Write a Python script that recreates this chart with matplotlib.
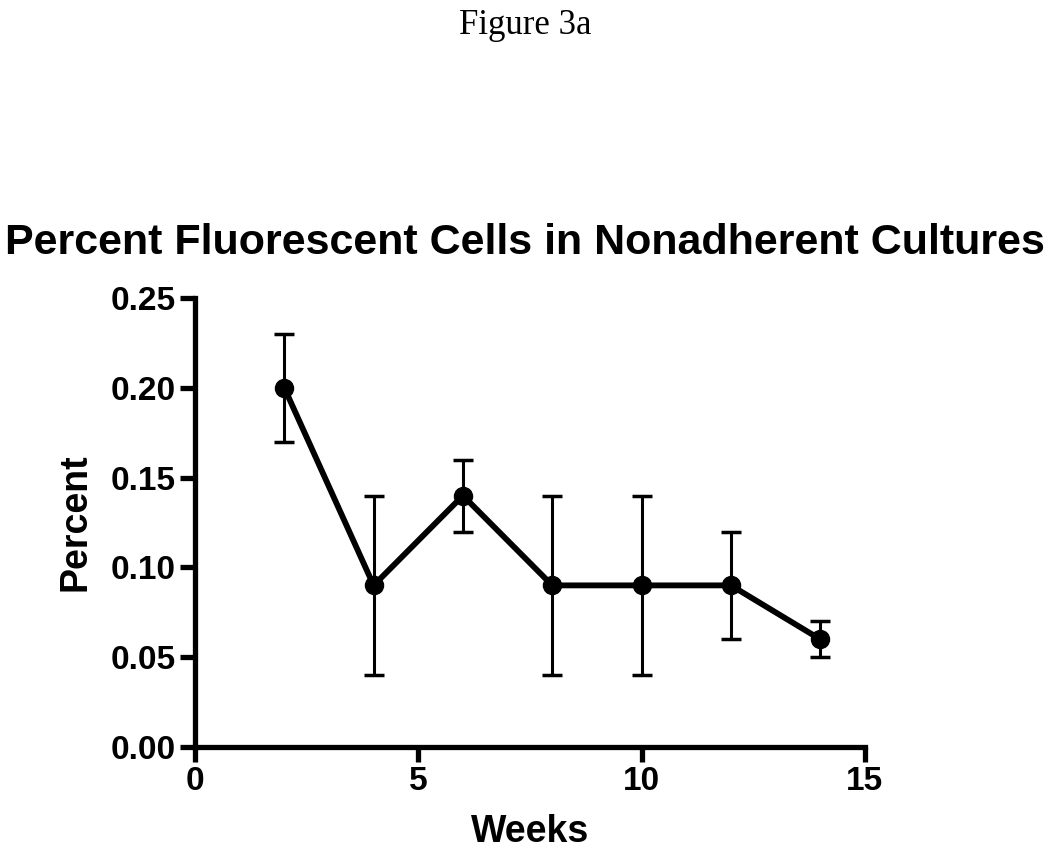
import matplotlib.pyplot as plt
import matplotlib as mpl

weeks = [2, 4, 6, 8, 10, 12, 14]
percent = [0.20, 0.09, 0.14, 0.09, 0.09, 0.09, 0.06]
err = [0.03, 0.05, 0.02, 0.05, 0.05, 0.03, 0.01]

x_ticks = [0, 5, 10, 15]
y_ticks = [0.00, 0.05, 0.10, 0.15, 0.20, 0.25]

mpl.rcParams['font.family'] = ['Liberation Sans', 'DejaVu Sans']
mpl.rcParams['font.weight'] = 'bold'

fig = plt.figure(figsize=(10.5, 8.55), dpi=100)
ax = fig.add_axes([0.1857, 0.1263, 0.638, 0.5251])

ax.errorbar(weeks, percent, yerr=err, color='black', linewidth=4.2,
            marker='o', markersize=13, elinewidth=2.2, capsize=7.5, capthick=2.5)

ax.set_xlim(0, 15)
ax.set_ylim(0, 0.25)
ax.set_xticks(x_ticks)
ax.set_yticks(y_ticks)
ax.set_yticklabels(['%.2f' % v for v in y_ticks])

for s in ['top', 'right']:
    ax.spines[s].set_visible(False)
for s in ['left', 'bottom']:
    ax.spines[s].set_linewidth(3.8)
ax.tick_params(width=3.8, length=11, labelsize=24, pad=3)

ax.set_xlabel('Weeks', fontsize=27, fontweight='bold', labelpad=12)
ax.set_ylabel('Percent', fontsize=27, fontweight='bold', labelpad=12)

fig.text(0.5, 0.716, 'Percent Fluorescent Cells in Nonadherent Cultures',
         ha='center', va='center', fontsize=31, fontweight='bold')
fig.text(0.5, 0.970, 'Figure 3a', ha='center', va='center', fontsize=25,
         family='Liberation Serif', fontweight='normal')

fig.savefig('out.png', dpi=100)
